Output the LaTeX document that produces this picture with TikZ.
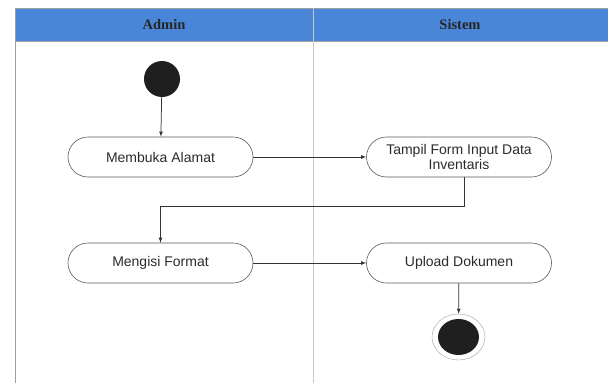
\documentclass[tikz,border=0pt]{standalone}
\usepackage{fontspec}
\setmainfont{Liberation Serif}
\setsansfont{Liberation Sans}
\usetikzlibrary{arrows, shapes.geometric}

\definecolor{headblue}{HTML}{4A86D8}
\definecolor{linegray}{HTML}{A0A0A0}
\definecolor{textgray}{HTML}{2A2A2A}

\tikzset{
  activity/.style={rectangle, rounded corners=20pt, draw=black!65, line width=0.6pt,
    minimum width=185pt, minimum height=40pt, align=center,
    font=\sffamily\fontsize{14}{14}\selectfont, text=textgray},
  lanehead/.style={font=\bfseries\fontsize{14.5}{16}\selectfont, text=black!85},
  flow/.style={draw=black!80, line width=0.75pt}
}

\begin{document}
\begin{tikzpicture}[x=1pt, y=-1pt, ->, >=latex]
    \useasboundingbox (0,0) rectangle (608,383);
    % swimlanes
    \fill[headblue] (15,8) rectangle (608,41);
    \draw[-, linegray] (15,8) -- (608,8);
    \draw[-, linegray] (15,41) -- (608,41);
    \draw[-, linegray] (15,8) -- (15,383);
    \draw[-, black!22, line width=0.8pt] (313,8) -- (313,383);
    \node[lanehead] (admin) at (164,24.5) {Admin};
    \node[lanehead] (sistem) at (460,24.5) {Sistem};

    \node[circle, fill=black!88, minimum size=36pt, inner sep=0pt] (start) at (162,79) {};
    \node[activity] (alamat) at (160.5,157) {Membuka Alamat};
    \node[activity] (form) at (459,157) {Tampil Form Input Data\\[1pt]Inventaris};
    \node[activity] (format) at (160.5,263) {Mengisi Format};
    \node[activity] (upload) at (459,263) {Upload Dokumen};
    \node[ellipse, draw=linegray, minimum width=53pt, minimum height=46pt, inner sep=0pt] (end) at (458.5,337) {};
    \node[ellipse, fill=black!88, minimum width=41pt, minimum height=36pt, inner sep=0pt] (endin) at (458.5,337) {};

    \draw[flow] (start) -- (alamat);
    \draw[flow] (alamat) -- (form);
    \draw[flow] ([xshift=5pt]form.south) -- ++(0,29) -| (format.north);
    \draw[flow] (format) -- (upload);
    \draw[flow] (upload) -- (end);
\end{tikzpicture}
\end{document}
